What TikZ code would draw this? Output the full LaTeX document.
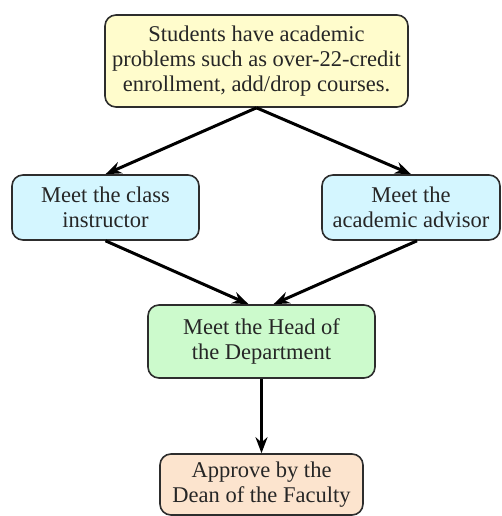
\documentclass[tikz,border=0pt]{standalone}
\usepackage{fontspec}
\setmainfont{Liberation Serif}
\usetikzlibrary{arrows.meta}
\definecolor{cyellow}{RGB}{255,252,204}
\definecolor{ccyan}{RGB}{212,246,255}
\definecolor{cgreen}{RGB}{204,250,204}
\definecolor{cpeach}{RGB}{252,228,206}
\definecolor{cborder}{RGB}{45,45,45}
\tikzset{
  box/.style={draw=cborder, line width=1.6pt, rounded corners=11pt, align=center,
    inner sep=0pt, font=\fontsize{22.5}{25}\selectfont, text=black!85},
  arr/.style={line width=3pt, -{Stealth[length=16pt,width=12pt]}}
}
\begin{document}
\begin{tikzpicture}[x=1pt,y=-1pt]
\useasboundingbox (0,0) rectangle (502,516);
\node[box, fill=cyellow, minimum width=303pt, minimum height=92pt] (top) at (256.5,61)
  {Students have academic\\problems such as over-22-credit\\enrollment, add/drop courses.};
\node[box, fill=ccyan, minimum width=187pt, minimum height=65pt] (left) at (105.5,207.5)
  {Meet the class\\instructor};
\node[box, fill=ccyan, minimum width=178pt, minimum height=65pt] (right) at (411,207.5)
  {Meet the\\academic advisor};
\node[box, fill=cgreen, minimum width=227pt, minimum height=73pt] (mid) at (261.5,341.5)
  {Meet the Head of\\the Department};
\node[box, fill=cpeach, minimum width=203pt, minimum height=61pt] (bot) at (261.5,484.5)
  {Approve by the\\Dean of the Faculty};
\draw[arr] (top.south) -- (left.north);
\draw[arr] (top.south) -- (right.north);
\draw[arr] (left.south) -- ([xshift=-13pt]mid.north);
\draw[arr] ([xshift=6pt]right.south) -- ([xshift=12pt]mid.north);
\draw[arr] (mid.south) -- (bot.north);
\end{tikzpicture}
\end{document}
